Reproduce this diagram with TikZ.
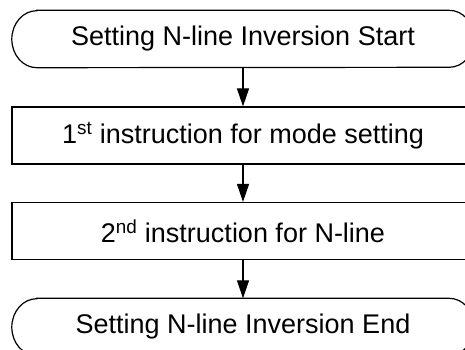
\documentclass[tikz,border=0pt]{standalone}
\usepackage{fontspec}
\setmainfont{Liberation Sans}
\usetikzlibrary{arrows.meta}
\begin{document}
\begin{tikzpicture}[x=1pt,y=1pt,
  box/.style={minimum width=462pt,minimum height=57pt,inner sep=0pt,font=\fontsize{27pt}{32pt}\selectfont},
  procbox/.style={box,draw,line width=1.2pt},
  termbox/.style={box},
  termline/.style={line width=1.2pt},
  flow/.style={line width=1.2pt,-{Triangle[length=18pt,width=12pt]}}]
\clip (0,0) rectangle (465,-350);
\useasboundingbox (0,0) rectangle (465,-350);
\node[termbox] (s) at (243,-39) {Setting N-line Inversion Start};
\node[procbox] (a) at (243,-135.5) {1\textsuperscript{st} instruction for mode setting};
\node[procbox] (b) at (243,-231) {2\textsuperscript{nd} instruction for N-line};
\node[termbox] (e) at (243,-327) {Setting N-line Inversion End};
\foreach \n in {s,e}{
  \draw[termline] ([xshift=25pt]\n.north west) -- ([xshift=-25pt]\n.north east)
    arc[start angle=90,end angle=-90,x radius=25pt,y radius=28.5pt]
    -- ([xshift=25pt]\n.south west)
    arc[start angle=270,end angle=90,x radius=25pt,y radius=28.5pt] -- cycle;
}
\draw[flow] (s) -- (a);
\draw[flow] (a) -- (b);
\draw[flow] (b) -- (e);
\end{tikzpicture}
\end{document}
